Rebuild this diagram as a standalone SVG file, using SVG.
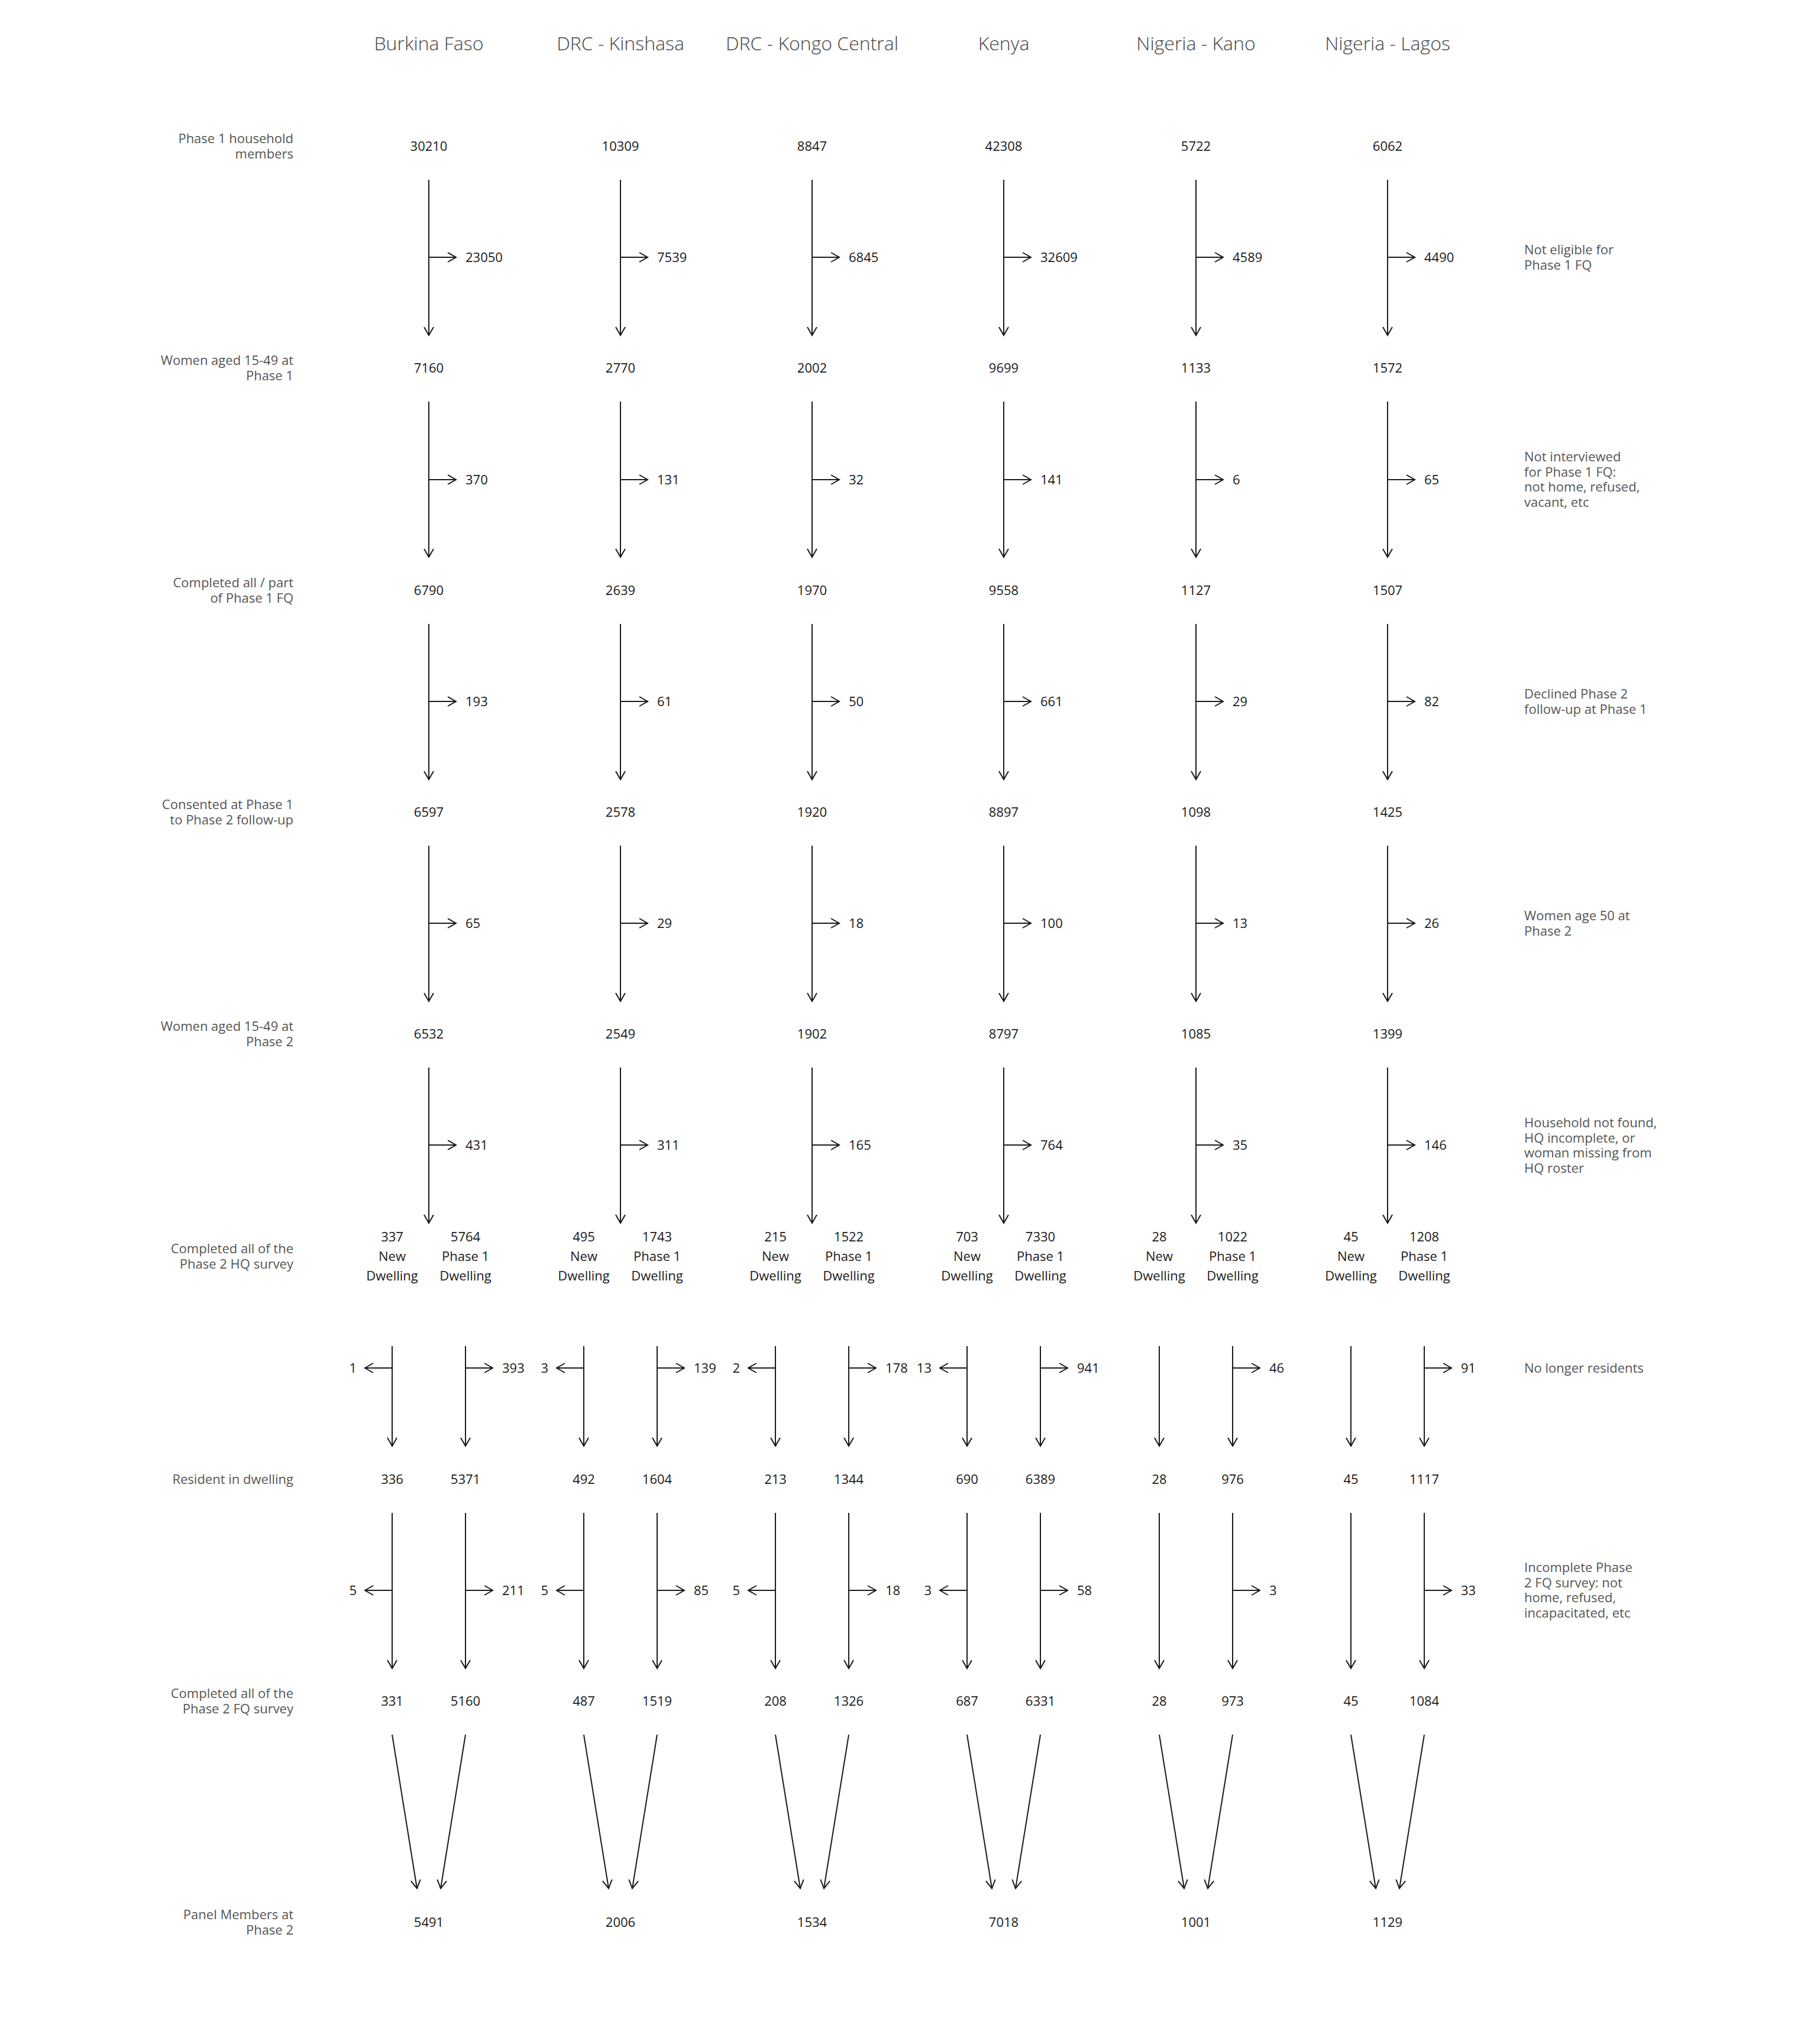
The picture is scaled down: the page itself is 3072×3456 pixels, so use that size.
<svg xmlns="http://www.w3.org/2000/svg" width="3072" height="3456" viewBox="0 0 3072 3456">
<defs>
<marker id="ah" viewBox="-16 -10 18 20" markerWidth="18" markerHeight="20" refX="0" refY="0" orient="auto" markerUnits="userSpaceOnUse">
<path d="M-14,-8 L0,0 L-14,8" fill="none" stroke="#1a1a1a" stroke-width="2"/>
</marker>
</defs>
<style>
text{font-family:"Open Sans","Noto Sans","Liberation Sans",sans-serif;}
.hd{font-size:32px;fill:#444;text-anchor:middle;font-weight:300;}
.n{font-size:22px;fill:#1a1a1a;text-anchor:middle;}
.s{font-size:22px;fill:#1a1a1a;text-anchor:start;}
.sl{font-size:22px;fill:#1a1a1a;text-anchor:end;}
.rl{font-size:22px;fill:#555;text-anchor:end;}
.rr{font-size:22px;fill:#555;text-anchor:start;}
.c line{stroke:#1a1a1a;stroke-width:2;fill:none;marker-end:url(#ah);}
</style>
<rect width="3072" height="3456" fill="#fff"/>

<g id="headers">
<text class="hd" x="725" y="85">Burkina Faso</text>
<text class="hd" x="1049" y="85">DRC - Kinshasa</text>
<text class="hd" x="1373" y="85">DRC - Kongo Central</text>
<text class="hd" x="1697" y="85">Kenya</text>
<text class="hd" x="2022" y="85">Nigeria - Kano</text>
<text class="hd" x="2346" y="85">Nigeria - Lagos</text>
</g>

<g id="row-labels">
<g id="lbl-r0"><text class="rl" x="496" y="242">Phase 1 household</text><text class="rl" x="496" y="268">members</text></g>
<g id="lbl-r1"><text class="rl" x="496" y="617">Women aged 15-49 at</text><text class="rl" x="496" y="643">Phase 1</text></g>
<g id="lbl-r2"><text class="rl" x="496" y="993">Completed all / part</text><text class="rl" x="496" y="1019">of Phase 1 FQ</text></g>
<g id="lbl-r3"><text class="rl" x="496" y="1368">Consented at Phase 1</text><text class="rl" x="496" y="1394">to Phase 2 follow-up</text></g>
<g id="lbl-r4"><text class="rl" x="496" y="1743">Women aged 15-49 at</text><text class="rl" x="496" y="1769">Phase 2</text></g>
<g id="lbl-hq"><text class="rl" x="496" y="2119">Completed all of the</text><text class="rl" x="496" y="2145">Phase 2 HQ survey</text></g>
<g id="lbl-res"><text class="rl" x="496" y="2509">Resident in dwelling</text></g>
<g id="lbl-fq"><text class="rl" x="496" y="2871">Completed all of the</text><text class="rl" x="496" y="2897">Phase 2 FQ survey</text></g>
<g id="lbl-panel"><text class="rl" x="496" y="3245">Panel Members at</text><text class="rl" x="496" y="3271">Phase 2</text></g>
</g>

<g id="exit-labels">
<g id="ex0"><text class="rr" x="2577" y="430">Not eligible for</text><text class="rr" x="2577" y="456">Phase 1 FQ</text></g>
<g id="ex1"><text class="rr" x="2577" y="780">Not interviewed</text><text class="rr" x="2577" y="806">for Phase 1 FQ:</text><text class="rr" x="2577" y="831">not home, refused,</text><text class="rr" x="2577" y="857">vacant, etc</text></g>
<g id="ex2"><text class="rr" x="2577" y="1181">Declined Phase 2</text><text class="rr" x="2577" y="1207">follow-up at Phase 1</text></g>
<g id="ex3"><text class="rr" x="2577" y="1556">Women age 50 at</text><text class="rr" x="2577" y="1582">Phase 2</text></g>
<g id="ex4"><text class="rr" x="2577" y="1906">Household not found,</text><text class="rr" x="2577" y="1932">HQ incomplete, or</text><text class="rr" x="2577" y="1957">woman missing from</text><text class="rr" x="2577" y="1983">HQ roster</text></g>
<g id="ex5"><text class="rr" x="2577" y="2321">No longer residents</text></g>
<g id="ex6"><text class="rr" x="2577" y="2658">Incomplete Phase</text><text class="rr" x="2577" y="2684">2 FQ survey: not</text><text class="rr" x="2577" y="2709">home, refused,</text><text class="rr" x="2577" y="2735">incapacitated, etc</text></g>
</g>

<g id="connectors" class="c">
<line x1="725" y1="304" x2="725" y2="567"/><line x1="1049" y1="304" x2="1049" y2="567"/><line x1="1373" y1="304" x2="1373" y2="567"/><line x1="1697" y1="304" x2="1697" y2="567"/><line x1="2022" y1="304" x2="2022" y2="567"/><line x1="2346" y1="304" x2="2346" y2="567"/>
<line x1="725" y1="435" x2="771" y2="435"/><line x1="1049" y1="435" x2="1095" y2="435"/><line x1="1373" y1="435" x2="1419" y2="435"/><line x1="1697" y1="435" x2="1743" y2="435"/><line x1="2022" y1="435" x2="2068" y2="435"/><line x1="2346" y1="435" x2="2392" y2="435"/>

<line x1="725" y1="679" x2="725" y2="942"/><line x1="1049" y1="679" x2="1049" y2="942"/><line x1="1373" y1="679" x2="1373" y2="942"/><line x1="1697" y1="679" x2="1697" y2="942"/><line x1="2022" y1="679" x2="2022" y2="942"/><line x1="2346" y1="679" x2="2346" y2="942"/>
<line x1="725" y1="811" x2="771" y2="811"/><line x1="1049" y1="811" x2="1095" y2="811"/><line x1="1373" y1="811" x2="1419" y2="811"/><line x1="1697" y1="811" x2="1743" y2="811"/><line x1="2022" y1="811" x2="2068" y2="811"/><line x1="2346" y1="811" x2="2392" y2="811"/>

<line x1="725" y1="1055" x2="725" y2="1318"/><line x1="1049" y1="1055" x2="1049" y2="1318"/><line x1="1373" y1="1055" x2="1373" y2="1318"/><line x1="1697" y1="1055" x2="1697" y2="1318"/><line x1="2022" y1="1055" x2="2022" y2="1318"/><line x1="2346" y1="1055" x2="2346" y2="1318"/>
<line x1="725" y1="1186" x2="771" y2="1186"/><line x1="1049" y1="1186" x2="1095" y2="1186"/><line x1="1373" y1="1186" x2="1419" y2="1186"/><line x1="1697" y1="1186" x2="1743" y2="1186"/><line x1="2022" y1="1186" x2="2068" y2="1186"/><line x1="2346" y1="1186" x2="2392" y2="1186"/>

<line x1="725" y1="1430" x2="725" y2="1693"/><line x1="1049" y1="1430" x2="1049" y2="1693"/><line x1="1373" y1="1430" x2="1373" y2="1693"/><line x1="1697" y1="1430" x2="1697" y2="1693"/><line x1="2022" y1="1430" x2="2022" y2="1693"/><line x1="2346" y1="1430" x2="2346" y2="1693"/>
<line x1="725" y1="1561" x2="771" y2="1561"/><line x1="1049" y1="1561" x2="1095" y2="1561"/><line x1="1373" y1="1561" x2="1419" y2="1561"/><line x1="1697" y1="1561" x2="1743" y2="1561"/><line x1="2022" y1="1561" x2="2068" y2="1561"/><line x1="2346" y1="1561" x2="2392" y2="1561"/>

<line x1="725" y1="1805" x2="725" y2="2068"/><line x1="1049" y1="1805" x2="1049" y2="2068"/><line x1="1373" y1="1805" x2="1373" y2="2068"/><line x1="1697" y1="1805" x2="1697" y2="2068"/><line x1="2022" y1="1805" x2="2022" y2="2068"/><line x1="2346" y1="1805" x2="2346" y2="2068"/>
<line x1="725" y1="1936" x2="771" y2="1936"/><line x1="1049" y1="1936" x2="1095" y2="1936"/><line x1="1373" y1="1936" x2="1419" y2="1936"/><line x1="1697" y1="1936" x2="1743" y2="1936"/><line x1="2022" y1="1936" x2="2068" y2="1936"/><line x1="2346" y1="1936" x2="2392" y2="1936"/>

<line x1="663" y1="2276" x2="663" y2="2445"/><line x1="787" y1="2276" x2="787" y2="2445"/>
<line x1="987" y1="2276" x2="987" y2="2445"/><line x1="1111" y1="2276" x2="1111" y2="2445"/>
<line x1="1311" y1="2276" x2="1311" y2="2445"/><line x1="1435" y1="2276" x2="1435" y2="2445"/>
<line x1="1635" y1="2276" x2="1635" y2="2445"/><line x1="1759" y1="2276" x2="1759" y2="2445"/>
<line x1="1960" y1="2276" x2="1960" y2="2445"/><line x1="2084" y1="2276" x2="2084" y2="2445"/>
<line x1="2284" y1="2276" x2="2284" y2="2445"/><line x1="2408" y1="2276" x2="2408" y2="2445"/>
<line x1="663" y1="2313" x2="617" y2="2313"/><line x1="787" y1="2313" x2="833" y2="2313"/>
<line x1="987" y1="2313" x2="941" y2="2313"/><line x1="1111" y1="2313" x2="1157" y2="2313"/>
<line x1="1311" y1="2313" x2="1265" y2="2313"/><line x1="1435" y1="2313" x2="1481" y2="2313"/>
<line x1="1635" y1="2313" x2="1589" y2="2313"/><line x1="1759" y1="2313" x2="1805" y2="2313"/>
<line x1="2084" y1="2313" x2="2130" y2="2313"/>
<line x1="2408" y1="2313" x2="2454" y2="2313"/>

<line x1="663" y1="2558" x2="663" y2="2821"/><line x1="787" y1="2558" x2="787" y2="2821"/>
<line x1="987" y1="2558" x2="987" y2="2821"/><line x1="1111" y1="2558" x2="1111" y2="2821"/>
<line x1="1311" y1="2558" x2="1311" y2="2821"/><line x1="1435" y1="2558" x2="1435" y2="2821"/>
<line x1="1635" y1="2558" x2="1635" y2="2821"/><line x1="1759" y1="2558" x2="1759" y2="2821"/>
<line x1="1960" y1="2558" x2="1960" y2="2821"/><line x1="2084" y1="2558" x2="2084" y2="2821"/>
<line x1="2284" y1="2558" x2="2284" y2="2821"/><line x1="2408" y1="2558" x2="2408" y2="2821"/>
<line x1="663" y1="2689" x2="617" y2="2689"/><line x1="787" y1="2689" x2="833" y2="2689"/>
<line x1="987" y1="2689" x2="941" y2="2689"/><line x1="1111" y1="2689" x2="1157" y2="2689"/>
<line x1="1311" y1="2689" x2="1265" y2="2689"/><line x1="1435" y1="2689" x2="1481" y2="2689"/>
<line x1="1635" y1="2689" x2="1589" y2="2689"/><line x1="1759" y1="2689" x2="1805" y2="2689"/>
<line x1="2084" y1="2689" x2="2130" y2="2689"/>
<line x1="2408" y1="2689" x2="2454" y2="2689"/>

<line x1="663" y1="2933" x2="705" y2="3193"/><line x1="787" y1="2933" x2="745" y2="3193"/>
<line x1="987" y1="2933" x2="1029" y2="3193"/><line x1="1111" y1="2933" x2="1069" y2="3193"/>
<line x1="1311" y1="2933" x2="1353" y2="3193"/><line x1="1435" y1="2933" x2="1393" y2="3193"/>
<line x1="1635" y1="2933" x2="1677" y2="3193"/><line x1="1759" y1="2933" x2="1717" y2="3193"/>
<line x1="1960" y1="2933" x2="2002" y2="3193"/><line x1="2084" y1="2933" x2="2042" y2="3193"/>
<line x1="2284" y1="2933" x2="2326" y2="3193"/><line x1="2408" y1="2933" x2="2366" y2="3193"/>
</g>

<g id="col-burkina">
<g id="bf-r0"><text class="n" x="725" y="255">30210</text></g>
<g id="bf-x0"><text class="s" x="787" y="443">23050</text></g>
<g id="bf-r1"><text class="n" x="725" y="630">7160</text></g>
<g id="bf-x1"><text class="s" x="787" y="819">370</text></g>
<g id="bf-r2"><text class="n" x="725" y="1006">6790</text></g>
<g id="bf-x2"><text class="s" x="787" y="1194">193</text></g>
<g id="bf-r3"><text class="n" x="725" y="1381">6597</text></g>
<g id="bf-x3"><text class="s" x="787" y="1569">65</text></g>
<g id="bf-r4"><text class="n" x="725" y="1756">6532</text></g>
<g id="bf-x4"><text class="s" x="787" y="1944">431</text></g>
<g id="bf-hq-new"><text class="n" x="663" y="2099">337</text><text class="n" x="663" y="2132">New</text><text class="n" x="663" y="2165">Dwelling</text></g>
<g id="bf-hq-p1"><text class="n" x="787" y="2099">5764</text><text class="n" x="787" y="2132">Phase 1</text><text class="n" x="787" y="2165">Dwelling</text></g>
<g id="bf-x5"><text class="sl" x="603" y="2321">1</text><text class="s" x="849" y="2321">393</text></g>
<g id="bf-res"><text class="n" x="663" y="2509">336</text><text class="n" x="787" y="2509">5371</text></g>
<g id="bf-x6"><text class="sl" x="603" y="2697">5</text><text class="s" x="849" y="2697">211</text></g>
<g id="bf-fq"><text class="n" x="663" y="2884">331</text><text class="n" x="787" y="2884">5160</text></g>
<g id="bf-panel"><text class="n" x="725" y="3258">5491</text></g>
</g>

<g id="col-kinshasa">
<g id="kin-r0"><text class="n" x="1049" y="255">10309</text></g>
<g id="kin-x0"><text class="s" x="1111" y="443">7539</text></g>
<g id="kin-r1"><text class="n" x="1049" y="630">2770</text></g>
<g id="kin-x1"><text class="s" x="1111" y="819">131</text></g>
<g id="kin-r2"><text class="n" x="1049" y="1006">2639</text></g>
<g id="kin-x2"><text class="s" x="1111" y="1194">61</text></g>
<g id="kin-r3"><text class="n" x="1049" y="1381">2578</text></g>
<g id="kin-x3"><text class="s" x="1111" y="1569">29</text></g>
<g id="kin-r4"><text class="n" x="1049" y="1756">2549</text></g>
<g id="kin-x4"><text class="s" x="1111" y="1944">311</text></g>
<g id="kin-hq-new"><text class="n" x="987" y="2099">495</text><text class="n" x="987" y="2132">New</text><text class="n" x="987" y="2165">Dwelling</text></g>
<g id="kin-hq-p1"><text class="n" x="1111" y="2099">1743</text><text class="n" x="1111" y="2132">Phase 1</text><text class="n" x="1111" y="2165">Dwelling</text></g>
<g id="kin-x5"><text class="sl" x="927" y="2321">3</text><text class="s" x="1173" y="2321">139</text></g>
<g id="kin-res"><text class="n" x="987" y="2509">492</text><text class="n" x="1111" y="2509">1604</text></g>
<g id="kin-x6"><text class="sl" x="927" y="2697">5</text><text class="s" x="1173" y="2697">85</text></g>
<g id="kin-fq"><text class="n" x="987" y="2884">487</text><text class="n" x="1111" y="2884">1519</text></g>
<g id="kin-panel"><text class="n" x="1049" y="3258">2006</text></g>
</g>

<g id="col-kongo">
<g id="kc-r0"><text class="n" x="1373" y="255">8847</text></g>
<g id="kc-x0"><text class="s" x="1435" y="443">6845</text></g>
<g id="kc-r1"><text class="n" x="1373" y="630">2002</text></g>
<g id="kc-x1"><text class="s" x="1435" y="819">32</text></g>
<g id="kc-r2"><text class="n" x="1373" y="1006">1970</text></g>
<g id="kc-x2"><text class="s" x="1435" y="1194">50</text></g>
<g id="kc-r3"><text class="n" x="1373" y="1381">1920</text></g>
<g id="kc-x3"><text class="s" x="1435" y="1569">18</text></g>
<g id="kc-r4"><text class="n" x="1373" y="1756">1902</text></g>
<g id="kc-x4"><text class="s" x="1435" y="1944">165</text></g>
<g id="kc-hq-new"><text class="n" x="1311" y="2099">215</text><text class="n" x="1311" y="2132">New</text><text class="n" x="1311" y="2165">Dwelling</text></g>
<g id="kc-hq-p1"><text class="n" x="1435" y="2099">1522</text><text class="n" x="1435" y="2132">Phase 1</text><text class="n" x="1435" y="2165">Dwelling</text></g>
<g id="kc-x5"><text class="sl" x="1251" y="2321">2</text><text class="s" x="1497" y="2321">178</text></g>
<g id="kc-res"><text class="n" x="1311" y="2509">213</text><text class="n" x="1435" y="2509">1344</text></g>
<g id="kc-x6"><text class="sl" x="1251" y="2697">5</text><text class="s" x="1497" y="2697">18</text></g>
<g id="kc-fq"><text class="n" x="1311" y="2884">208</text><text class="n" x="1435" y="2884">1326</text></g>
<g id="kc-panel"><text class="n" x="1373" y="3258">1534</text></g>
</g>

<g id="col-kenya">
<g id="ke-r0"><text class="n" x="1697" y="255">42308</text></g>
<g id="ke-x0"><text class="s" x="1759" y="443">32609</text></g>
<g id="ke-r1"><text class="n" x="1697" y="630">9699</text></g>
<g id="ke-x1"><text class="s" x="1759" y="819">141</text></g>
<g id="ke-r2"><text class="n" x="1697" y="1006">9558</text></g>
<g id="ke-x2"><text class="s" x="1759" y="1194">661</text></g>
<g id="ke-r3"><text class="n" x="1697" y="1381">8897</text></g>
<g id="ke-x3"><text class="s" x="1759" y="1569">100</text></g>
<g id="ke-r4"><text class="n" x="1697" y="1756">8797</text></g>
<g id="ke-x4"><text class="s" x="1759" y="1944">764</text></g>
<g id="ke-hq-new"><text class="n" x="1635" y="2099">703</text><text class="n" x="1635" y="2132">New</text><text class="n" x="1635" y="2165">Dwelling</text></g>
<g id="ke-hq-p1"><text class="n" x="1759" y="2099">7330</text><text class="n" x="1759" y="2132">Phase 1</text><text class="n" x="1759" y="2165">Dwelling</text></g>
<g id="ke-x5"><text class="sl" x="1575" y="2321">13</text><text class="s" x="1821" y="2321">941</text></g>
<g id="ke-res"><text class="n" x="1635" y="2509">690</text><text class="n" x="1759" y="2509">6389</text></g>
<g id="ke-x6"><text class="sl" x="1575" y="2697">3</text><text class="s" x="1821" y="2697">58</text></g>
<g id="ke-fq"><text class="n" x="1635" y="2884">687</text><text class="n" x="1759" y="2884">6331</text></g>
<g id="ke-panel"><text class="n" x="1697" y="3258">7018</text></g>
</g>

<g id="col-kano">
<g id="kn-r0"><text class="n" x="2022" y="255">5722</text></g>
<g id="kn-x0"><text class="s" x="2084" y="443">4589</text></g>
<g id="kn-r1"><text class="n" x="2022" y="630">1133</text></g>
<g id="kn-x1"><text class="s" x="2084" y="819">6</text></g>
<g id="kn-r2"><text class="n" x="2022" y="1006">1127</text></g>
<g id="kn-x2"><text class="s" x="2084" y="1194">29</text></g>
<g id="kn-r3"><text class="n" x="2022" y="1381">1098</text></g>
<g id="kn-x3"><text class="s" x="2084" y="1569">13</text></g>
<g id="kn-r4"><text class="n" x="2022" y="1756">1085</text></g>
<g id="kn-x4"><text class="s" x="2084" y="1944">35</text></g>
<g id="kn-hq-new"><text class="n" x="1960" y="2099">28</text><text class="n" x="1960" y="2132">New</text><text class="n" x="1960" y="2165">Dwelling</text></g>
<g id="kn-hq-p1"><text class="n" x="2084" y="2099">1022</text><text class="n" x="2084" y="2132">Phase 1</text><text class="n" x="2084" y="2165">Dwelling</text></g>
<g id="kn-x5"><text class="s" x="2146" y="2321">46</text></g>
<g id="kn-res"><text class="n" x="1960" y="2509">28</text><text class="n" x="2084" y="2509">976</text></g>
<g id="kn-x6"><text class="s" x="2146" y="2697">3</text></g>
<g id="kn-fq"><text class="n" x="1960" y="2884">28</text><text class="n" x="2084" y="2884">973</text></g>
<g id="kn-panel"><text class="n" x="2022" y="3258">1001</text></g>
</g>

<g id="col-lagos">
<g id="lg-r0"><text class="n" x="2346" y="255">6062</text></g>
<g id="lg-x0"><text class="s" x="2408" y="443">4490</text></g>
<g id="lg-r1"><text class="n" x="2346" y="630">1572</text></g>
<g id="lg-x1"><text class="s" x="2408" y="819">65</text></g>
<g id="lg-r2"><text class="n" x="2346" y="1006">1507</text></g>
<g id="lg-x2"><text class="s" x="2408" y="1194">82</text></g>
<g id="lg-r3"><text class="n" x="2346" y="1381">1425</text></g>
<g id="lg-x3"><text class="s" x="2408" y="1569">26</text></g>
<g id="lg-r4"><text class="n" x="2346" y="1756">1399</text></g>
<g id="lg-x4"><text class="s" x="2408" y="1944">146</text></g>
<g id="lg-hq-new"><text class="n" x="2284" y="2099">45</text><text class="n" x="2284" y="2132">New</text><text class="n" x="2284" y="2165">Dwelling</text></g>
<g id="lg-hq-p1"><text class="n" x="2408" y="2099">1208</text><text class="n" x="2408" y="2132">Phase 1</text><text class="n" x="2408" y="2165">Dwelling</text></g>
<g id="lg-x5"><text class="s" x="2470" y="2321">91</text></g>
<g id="lg-res"><text class="n" x="2284" y="2509">45</text><text class="n" x="2408" y="2509">1117</text></g>
<g id="lg-x6"><text class="s" x="2470" y="2697">33</text></g>
<g id="lg-fq"><text class="n" x="2284" y="2884">45</text><text class="n" x="2408" y="2884">1084</text></g>
<g id="lg-panel"><text class="n" x="2346" y="3258">1129</text></g>
</g>
</svg>
